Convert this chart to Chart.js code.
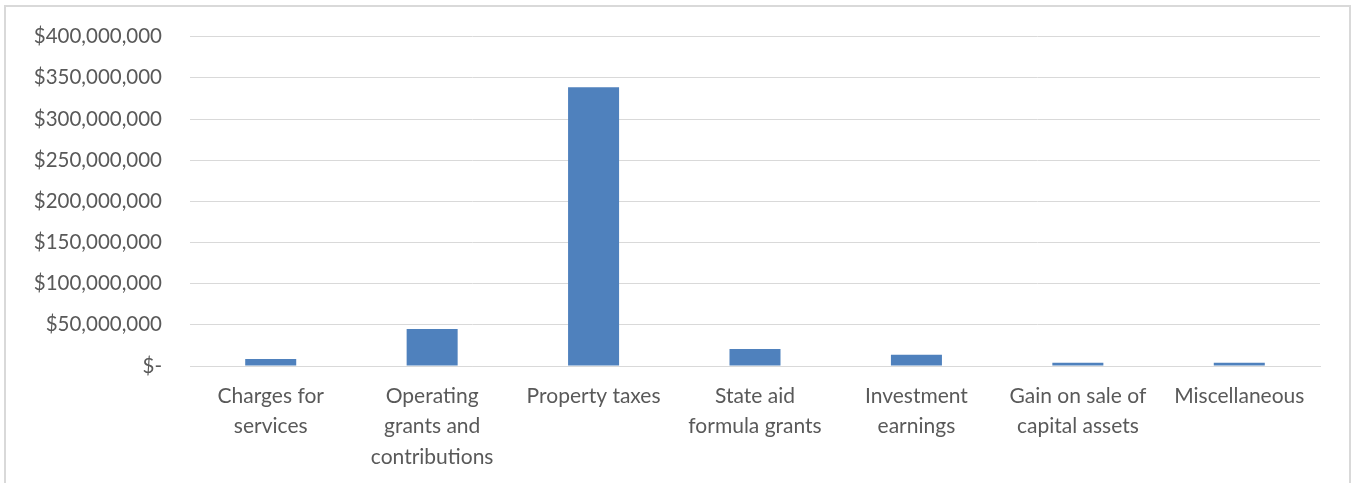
<!DOCTYPE html>
<html>
<head>
<meta charset="utf-8">
<script src="https://cdn.jsdelivr.net/npm/chart.js@4.4.0/dist/chart.umd.min.js"></script>
<style>
  html, body { margin: 0; padding: 0; background: #fff; overflow: hidden; }
  #frame { position: absolute; left: 4px; top: 5px; width: 1347px; height: 500px; border: 2px solid #d9d9d9; box-sizing: border-box; }
  #wrap { position: absolute; left: 0; top: 0; width: 1351px; height: 483px; }
</style>
</head>
<body>
<div id="frame"></div>
<div id="wrap"><canvas id="chart"></canvas></div>
<script>
// Revenue by source
const categories = [
  ['Charges for', 'services'],
  ['Operating', 'grants and', 'contributions'],
  'Property taxes',
  ['State aid', 'formula grants'],
  ['Investment', 'earnings'],
  ['Gain on sale of', 'capital assets'],
  'Miscellaneous'
];
const revenues = [8500000, 44900000, 338600000, 20600000, 13700000, 4000000, 4000000];
const yTicks = [0, 50000000, 100000000, 150000000, 200000000, 250000000, 300000000, 350000000, 400000000];

const fmtTick = (v) => v === 0 ? '$-' : '$' + v.toLocaleString('en-US');

Chart.defaults.font.family = 'Lato, "Open Sans", sans-serif';
Chart.defaults.color = '#595959';

new Chart(document.getElementById('chart'), {
  type: 'bar',
  data: {
    labels: categories,
    datasets: [{
      data: revenues,
      backgroundColor: '#4f81bd',
      barPercentage: 0.316,
      categoryPercentage: 1
    }]
  },
  options: {
    responsive: true,
    maintainAspectRatio: false,
    animation: false,
    layout: { padding: { top: 36.7, right: 31, left: 0, bottom: 0 } },
    plugins: { legend: { display: false }, tooltip: { enabled: false } },
    scales: {
      x: {
        grid: { display: false, drawTicks: false },
        border: { color: '#d9d9d9' },
        ticks: { maxRotation: 0, autoSkip: false, padding: 15, font: { size: 21, lineHeight: 1.45 }, color: '#595959' },
        afterFit: (s) => { s.height = 117; }
      },
      y: {
        min: 0, max: 400000000,
        afterBuildTicks: (s) => { s.ticks = yTicks.map(v => ({ value: v })); },
        grid: { color: '#d9d9d9', drawTicks: false },
        border: { display: false },
        ticks: { callback: fmtTick, padding: 28, font: { size: 20.5 }, color: '#595959' },
        afterFit: (s) => { s.width = 190; s.paddingTop = 0; s.paddingBottom = 0; }
      }
    }
  }
});
</script>
</body>
</html>
